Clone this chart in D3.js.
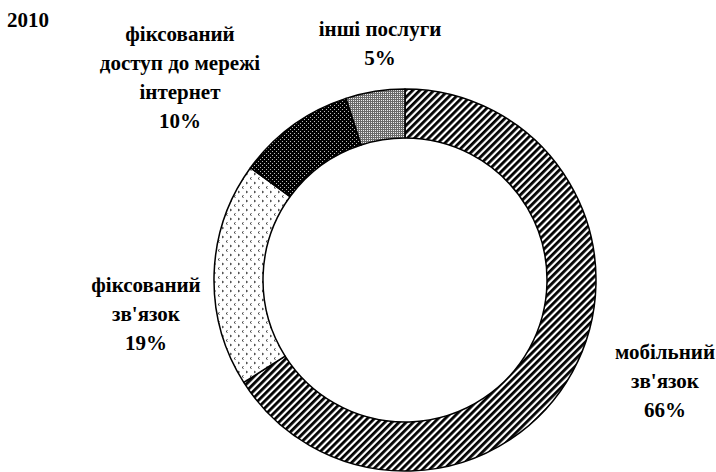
<!DOCTYPE html>
<html>
<head>
<meta charset="utf-8">
<script src="https://cdn.jsdelivr.net/npm/d3@7"></script>
<style>
  html, body { margin: 0; padding: 0; background: #fff; }
  svg { display: block; }
</style>
</head>
<body>
<svg id="chart" width="716" height="472"></svg>
<script>
// ---- data ----
const title = "2010";
const categories = ["мобільний зв'язок", "фіксований зв'язок", "фіксований доступ до мережі інтернет", "інші послуги"];
const values = [66, 19, 10, 5];
const labelLines = [
  ["мобільний", "зв'язок"],
  ["фіксований", "зв'язок"],
  ["фіксований", "доступ до мережі", "інтернет"],
  ["інші послуги"]
];
const patternIds = ["pMobile", "pFixed", "pInternet", "pOther"];

// ---- layout ----
const W = 716, H = 472;
const cx = 405, cy = 280, rOuter = 191, rInner = 142;
const labelPos = [[665, 359], [146, 292], [180, 41], [380, 36]]; // center x, first baseline
const lineStep = 29;
const FONT = "Liberation Serif";

const svg = d3.select("#chart");
const defs = svg.append("defs");

// diagonal stripes
const p1 = defs.append("pattern").attr("id", "pMobile").attr("patternUnits", "userSpaceOnUse")
  .attr("width", 5).attr("height", 5).attr("patternTransform", "rotate(45)");
p1.append("rect").attr("width", 5).attr("height", 5).attr("fill", "#fff");
p1.append("rect").attr("width", 2.8).attr("height", 5).attr("fill", "#000");

// sparse small gray marks
const p2 = defs.append("pattern").attr("id", "pFixed").attr("patternUnits", "userSpaceOnUse")
  .attr("width", 8).attr("height", 9);
p2.append("rect").attr("width", 8).attr("height", 9).attr("fill", "#fff");
p2.append("path").attr("d", "M1,1 L2.5,2 L1,3").attr("fill", "none").attr("stroke", "#333").attr("stroke-width", 1);
p2.append("path").attr("d", "M6.5,5.5 L5,6.5 L6.5,7.5").attr("fill", "none").attr("stroke", "#333").attr("stroke-width", 1);

// black with white dots
const p3 = defs.append("pattern").attr("id", "pInternet").attr("patternUnits", "userSpaceOnUse")
  .attr("width", 4).attr("height", 4);
p3.append("rect").attr("width", 4).attr("height", 4).attr("fill", "#000");
p3.append("rect").attr("x", 1).attr("y", 1).attr("width", 1).attr("height", 1).attr("fill", "#bbb");
p3.append("rect").attr("x", 3).attr("y", 3).attr("width", 1).attr("height", 1).attr("fill", "#bbb");

// fine gray checker
const p4 = defs.append("pattern").attr("id", "pOther").attr("patternUnits", "userSpaceOnUse")
  .attr("width", 2).attr("height", 2);
p4.append("rect").attr("width", 2).attr("height", 2).attr("fill", "#6a6a6a");
p4.append("rect").attr("width", 1).attr("height", 1).attr("fill", "#eee");

// ---- donut ----
const data = categories.map((c, i) => ({ name: c, value: values[i], i }));
const pie = d3.pie().value(d => d.value).sort(null).startAngle(0).endAngle(2 * Math.PI);
const arc = d3.arc().innerRadius(rInner).outerRadius(rOuter);

const g = svg.append("g").attr("transform", `translate(${cx},${cy})`);
g.selectAll("path.slice")
  .data(pie(data))
  .join("path")
  .attr("class", "slice")
  .attr("d", arc)
  .attr("fill", d => `url(#${patternIds[d.data.i]})`)
  .attr("stroke", "#000")
  .attr("stroke-width", 1.5)
  .attr("stroke-linejoin", "round");

function styled(sel) {
  return sel.attr("font-family", FONT).attr("font-weight", "bold").attr("font-size", 21).attr("fill", "#000");
}

// ---- title ----
styled(svg.append("text")).attr("x", 7).attr("y", 27).attr("text-anchor", "start").text(title);

// ---- labels ----
data.forEach((d, i) => {
  const lines = labelLines[i].concat([d.value + "%"]);
  const t = styled(svg.append("text")).attr("text-anchor", "middle");
  lines.forEach((ln, k) => {
    t.append("tspan").attr("x", labelPos[i][0]).attr("y", labelPos[i][1] + k * lineStep).text(ln);
  });
});
</script>
</body>
</html>
